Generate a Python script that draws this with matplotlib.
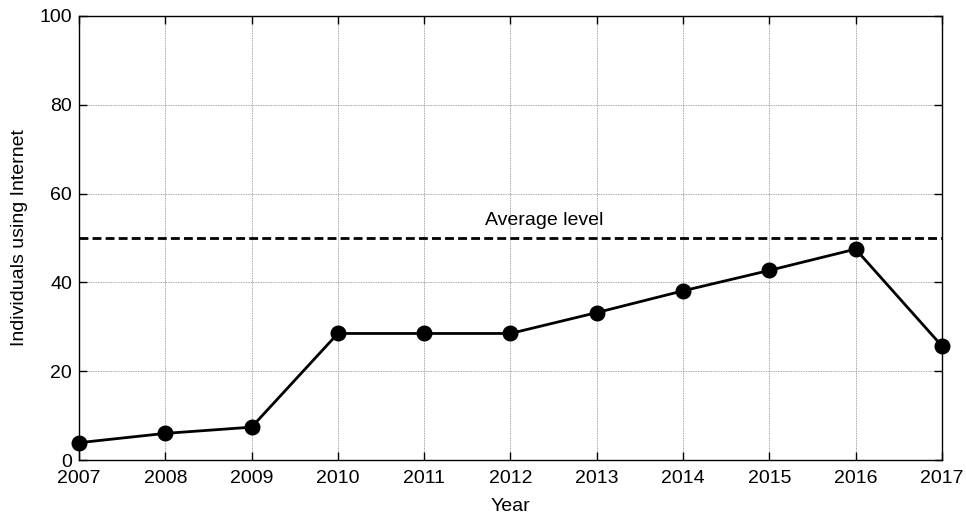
import matplotlib
matplotlib.use("Agg")
import matplotlib.pyplot as plt

years = [2007, 2008, 2009, 2010, 2011, 2012, 2013, 2014, 2015, 2016, 2017]
users = [3.9, 6.0, 7.4, 28.5, 28.5, 28.5, 33.2, 38.1, 42.7, 47.5, 25.7]
average_level = 50
y_ticks = [0, 20, 40, 60, 80, 100]

plt.rcParams["font.family"] = ["Liberation Sans", "DejaVu Sans"]
plt.rcParams["font.size"] = 14

fig = plt.figure(figsize=(9.66, 5.16), dpi=100)
ax = fig.add_axes([0.0818, 0.1085, 0.8932, 0.8605])

ax.plot(years, users, color="black", linewidth=2.0, marker="o",
        markersize=10.5, clip_on=False, zorder=3)
ax.axhline(average_level, color="black", linestyle=(0, (3.2, 1.5)), linewidth=2.0)
ax.text(2011.7, average_level + 2.0, "Average level", ha="left", va="bottom", fontsize=14)

ax.set_xlim(years[0], years[-1])
ax.set_ylim(0, 100)
ax.set_xticks(years)
ax.set_yticks(y_ticks)
ax.grid(True, color="#888888", linestyle=(0, (1, 1)), linewidth=0.6)
ax.tick_params(direction="in", top=True, right=True, length=6, width=1.0)
ax.tick_params(axis="x", pad=7)
ax.tick_params(axis="y", pad=5)
for s in ax.spines.values():
    s.set_linewidth(1.0)

ax.set_xlabel("Year", labelpad=8)
ax.set_ylabel("Individuals using Internet", labelpad=8)

fig.savefig("out.png", dpi=100)
